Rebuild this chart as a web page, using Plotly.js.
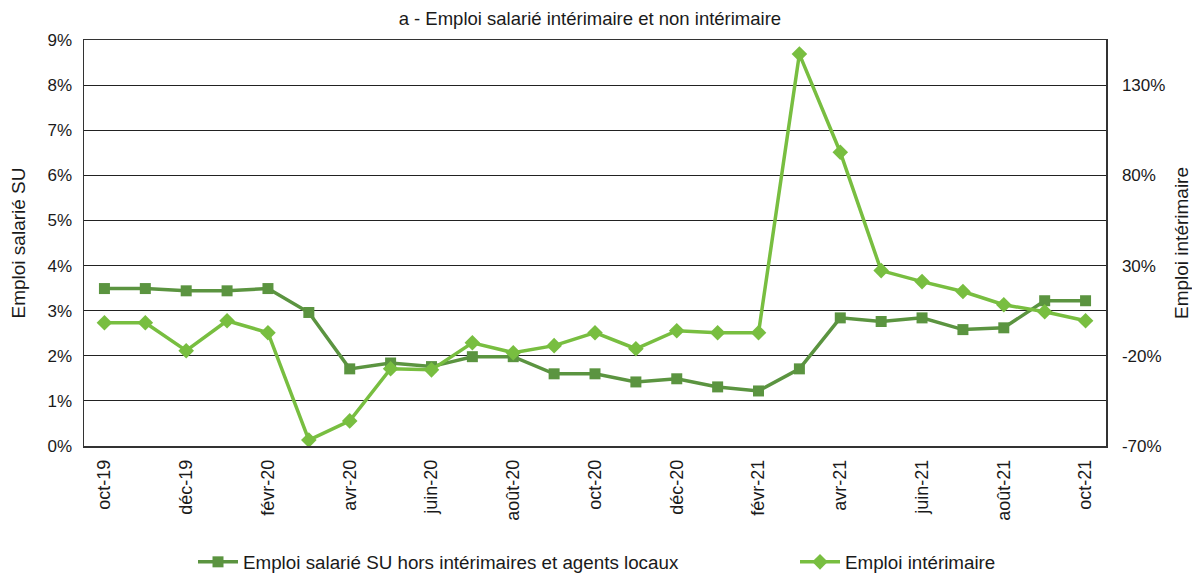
<!DOCTYPE html>
<html>
<head>
<meta charset="utf-8">
<script src="https://cdn.plot.ly/plotly-3.0.1.min.js"></script>
<style>html,body{margin:0;padding:0;background:#fff;}#chart{width:1192px;height:573px;}</style>
</head>
<body>
<div id="chart"></div>
<script>
const months = ["oct-19","nov-19","déc-19","janv-20","févr-20","mars-20","avr-20","mai-20","juin-20","juil-20","août-20","sept-20","oct-20","nov-20","déc-20","janv-21","févr-21","mars-21","avr-21","mai-21","juin-21","juil-21","août-21","sept-21","oct-21"];
const tickMonths = ["oct-19","déc-19","févr-20","avr-20","juin-20","août-20","oct-20","déc-20","févr-21","avr-21","juin-21","août-21","oct-21"];
const emploiSU = [3.49,3.49,3.44,3.44,3.49,2.96,1.71,1.84,1.76,1.98,1.98,1.60,1.60,1.42,1.49,1.31,1.22,1.71,2.84,2.76,2.84,2.58,2.62,3.22,3.22];
const emploiInterim = [-1.7,-1.7,-17.2,-0.6,-7.2,-66.7,-56.1,-27.2,-27.8,-12.8,-18.3,-14.4,-7.2,-16.1,-6.1,-7.2,-7.2,147.2,92.8,27.2,21.1,15.6,8.3,4.4,-0.6];
const rightTicks = [-70,-20,30,80,130];

const font = {family: "Liberation Sans, Arial, sans-serif", color: "#1a1a1a"};
const f = s => Object.assign({size: s}, font);
const traces = [
  {x: months, y: emploiSU, name: "Emploi salarié SU hors intérimaires et agents locaux", type: "scatter", mode: "lines+markers",
   line: {color: "#5B9440", width: 3.5}, marker: {symbol: "square", size: 11, color: "#5B9440"}, yaxis: "y", legend: "legend"},
  {x: months, y: emploiInterim, name: "Emploi intérimaire", type: "scatter", mode: "lines+markers",
   line: {color: "#78BE40", width: 3.5}, marker: {symbol: "diamond", size: 12, color: "#78BE40"}, yaxis: "y2", legend: "legend2"}
];
const legendBase = {orientation: "h", xref: "container", yref: "container", xanchor: "left", y: 0.019, yanchor: "middle",
  font: f(18.8), itemwidth: 40, bgcolor: "rgba(0,0,0,0)"};
const layout = {
  width: 1192, height: 573,
  margin: {l: 84, r: 86, t: 40, b: 127},
  paper_bgcolor: "#fff", plot_bgcolor: "#fff",
  font: f(16),
  title: {text: "a - Emploi salarié intérimaire et non intérimaire", font: f(18.5), xref: "paper", x: 0.495, xanchor: "center", yref: "container", y: 0.968, yanchor: "middle"},
  xaxis: {type: "category", categoryorder: "array", categoryarray: months, tickvals: tickMonths, ticktext: tickMonths,
    tickangle: -90, tickfont: f(18), showgrid: false, zeroline: false, automargin: false,
    showline: true, mirror: true, linecolor: "#333", linewidth: 1.5, ticks: "", range: [-0.5, 24.5], ticklabelstandoff: 5},
  yaxis: {range: [0, 9], dtick: 1, ticksuffix: "%", showgrid: true, gridcolor: "#222", gridwidth: 1, zeroline: false,
    showline: true, mirror: true, linecolor: "#333", linewidth: 1.5, ticks: "", tickfont: f(17), automargin: false,
    ticklabelstandoff: 7,
    title: {text: "Emploi salarié SU", font: f(19), standoff: 17}},
  yaxis2: {overlaying: "y", side: "right", range: [-70, 155], tickvals: rightTicks, ticktext: rightTicks.map(v => v + "%"),
    showgrid: false, zeroline: false, showline: true, linecolor: "#333", linewidth: 1.5, ticks: "", automargin: false,
    tickfont: f(17), ticklabelstandoff: 11,
    title: {text: "Emploi intérimaire", font: f(19), standoff: 14}},
  legend: Object.assign({x: 193 / 1192}, legendBase),
  legend2: Object.assign({x: 795 / 1192}, legendBase),
  showlegend: true
};
Plotly.newPlot("chart", traces, layout, {displayModeBar: false, staticPlot: true});
</script>
</body>
</html>
